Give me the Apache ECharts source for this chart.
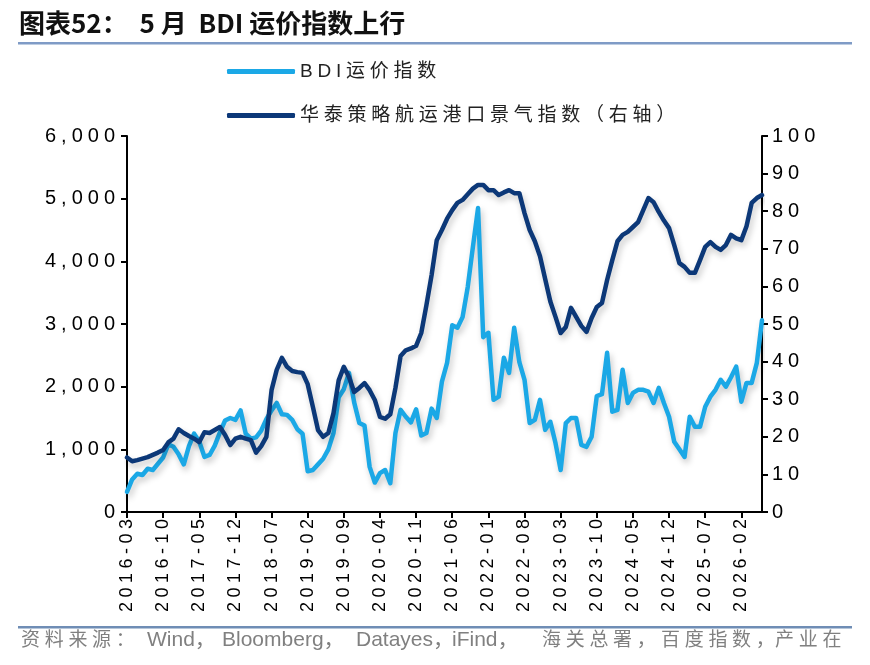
<!DOCTYPE html>
<html>
<head>
<meta charset="utf-8">
<script src="https://cdn.jsdelivr.net/npm/echarts@6/dist/echarts.min.js"></script>
<style>
  html, body { margin: 0; padding: 0; background: #fff; }
  #chart { width: 870px; height: 665px; }
</style>
</head>
<body>
<div id="chart"></div>
<script>
// monthly categories 2016-03 .. 2026-06
const months = [];
for (let y = 2016, m = 3; months.length < 124; m++) {
  if (m > 12) { m = 1; y++; }
  months.push(y + '-' + String(m).padStart(2, '0'));
}

// BDI 运价指数 (left axis)
const bdi = [
  320, 520, 610, 590, 690, 670, 770, 870, 1080, 1040, 920, 760,
  1050, 1250, 1120, 880, 910, 1060, 1270, 1460, 1500, 1470, 1620, 1250,
  1170, 1190, 1300, 1480, 1620, 1740, 1560, 1550, 1470, 1320, 1250, 650,
  670, 760, 850, 1000, 1260, 1830, 1960, 2220, 1750, 1420, 1380, 720,
  470, 620, 670, 460, 1260, 1630, 1520, 1430, 1640, 1220, 1260, 1650,
  1500, 2080, 2380, 2980, 2940, 3110, 3590, 4230, 4850, 2790, 2860, 1790,
  1840, 2460, 2220, 2940, 2390, 2110, 1420, 1470, 1790, 1310, 1440, 1100,
  670, 1420, 1500, 1500, 1070, 1040, 1200, 1850, 1880, 2540, 1600, 1630,
  2270, 1740, 1900, 1950, 1950, 1920, 1740, 1980, 1740, 1520, 1120, 1000,
  880, 1520, 1360, 1360, 1680, 1840, 1950, 2110, 2000, 2150, 2320, 1760,
  2060, 2060, 2380, 3060
];

// 华泰策略航运港口景气指数 (right axis)
const portIndex = [
  14.5, 13.5, 13.8, 14.2, 14.6, 15.2, 15.8, 16.5, 18.5, 19.5, 22, 21,
  20.2, 19.5, 18.6, 21.2, 21, 21.8, 22.6, 20.5, 17.8, 19.5, 20, 19.5,
  19.1, 15.8, 17.5, 20, 32.4, 37.8, 41, 38.6, 37.5, 37.2, 37, 34,
  28, 21.8, 20, 21, 26.3, 35, 38.6, 35.9, 31.9, 33, 34.3, 32.4,
  29.8, 25.3, 24.8, 26, 33, 41.5, 43, 43.5, 44.2, 47.6, 55, 63,
  72.3, 75, 78, 80.3, 82.2, 83, 84.5, 86, 87, 87, 85.6, 85.6,
  84.3, 85, 85.6, 84.8, 84.8, 79.5, 75, 72, 68, 62, 56, 51.9,
  47.6, 49.2, 54.3, 51.9, 49.5, 47.9, 51.6, 54.5, 55.6, 61.7, 67, 72,
  73.7, 74.5, 75.8, 77.1, 80.3, 83.5, 82.4, 79.8, 77.5, 75.5, 71, 66.2,
  65.2, 63.6, 63.6, 67, 70.5, 71.8, 70.5, 69.7, 71, 73.7, 72.8, 72.3,
  76, 82.2, 83.5, 84.3
];

const leftTicks = { min: 0, max: 6000, interval: 1000 };
const rightTicks = { min: 0, max: 100, interval: 10 };

const titleText = '图表52：  5 月  BDI 运价指数上行';
const sourceParts = [
  { t: '资料来源：', x: 21, cjk: true },
  { t: 'Wind，', x: 147 },
  { t: 'Bloomberg，', x: 222 },
  { t: 'Datayes，', x: 356 },
  { t: 'iFind，', x: 452 },
  { t: '海关总署，', x: 542, cjk: true },
  { t: '百度指数，', x: 661, cjk: true },
  { t: '产业在', x: 775, cjk: true }
];

const LIGHT = '#1ba8e6';
const DARK = '#0c3878';
const spread = s => String(s).split('').join('\u2005');

// source line: CJK chars placed one by one at a fixed pitch
const sourceEls = [];
sourceParts.forEach(p => {
  const chars = p.cjk ? p.t.split('') : [p.t];
  chars.forEach((c, i) => {
    sourceEls.push({
      type: 'text', left: p.x + i * 23.7, top: p.cjk ? 631 : 630,
      style: {
        text: c, fill: '#808080',
        font: (p.cjk ? '19px' : '21px') + ' "Liberation Sans", "Noto Sans CJK SC"'
      }
    });
  });
});

const chart = echarts.init(document.getElementById('chart'));
chart.setOption({
  animation: false,
  grid: { left: 127, right: 108, top: 136, bottom: 153 },
  legend: {
    orient: 'vertical',
    left: 222, top: 57,
    itemWidth: 68, itemHeight: 5, itemGap: 25,
    icon: 'roundRect',
    formatter: name => spread(name),
    textStyle: { fontSize: 19, color: '#222', fontFamily: '"Liberation Sans", "Noto Sans CJK SC"' }
  },
  graphic: [
    { type: 'text', left: 19, top: 10,
      style: { text: titleText, fill: '#111', font: 'bold 26px "Liberation Sans Narrow", "Noto Sans CJK SC"' } },
    { type: 'rect', left: 18, top: 42, shape: { width: 834, height: 2.5 }, style: { fill: '#7f9bc6' } },
    { type: 'rect', left: 18, top: 626, shape: { width: 834, height: 2.5 }, style: { fill: '#6f8db5' } }
  ].concat(sourceEls),
  xAxis: {
    type: 'category',
    data: months,
    boundaryGap: false,
    axisLine: { lineStyle: { color: '#000', width: 2 } },
    axisTick: { interval: 6, length: 6, lineStyle: { color: '#000', width: 2 } },
    axisLabel: {
      interval: 6, rotate: 90, margin: 7, fontSize: 18, color: '#000',
      fontFamily: '"Liberation Sans"',
      formatter: v => spread(v)
    },
    splitLine: { show: false }
  },
  yAxis: [
    {
      type: 'value', position: 'left', ...leftTicks,
      axisLine: { show: true, lineStyle: { color: '#000', width: 2 } },
      axisTick: { show: true, length: 6, lineStyle: { color: '#000', width: 2 } },
      axisLabel: {
        fontSize: 20, color: '#000', margin: 12, fontFamily: '"Liberation Sans"',
        formatter: v => spread(v.toLocaleString('en-US'))
      },
      splitLine: { show: false }
    },
    {
      type: 'value', position: 'right', ...rightTicks,
      axisLine: { show: true, lineStyle: { color: '#000', width: 2 } },
      axisTick: { show: true, length: 6, lineStyle: { color: '#000', width: 2 } },
      axisLabel: {
        fontSize: 20, color: '#000', margin: 10, fontFamily: '"Liberation Sans"',
        formatter: v => spread(v)
      },
      splitLine: { show: false }
    }
  ],
  series: [
    {
      name: 'BDI运价指数', type: 'line', yAxisIndex: 0, data: bdi,
      symbol: 'none', color: LIGHT,
      lineStyle: { width: 4.5, color: LIGHT, cap: 'round', join: 'round',
        shadowColor: 'rgba(0,0,0,0.22)', shadowBlur: 6, shadowOffsetX: 2, shadowOffsetY: 4 }
    },
    {
      name: '华泰策略航运港口景气指数（右轴）', type: 'line', yAxisIndex: 1, data: portIndex,
      symbol: 'none', color: DARK,
      lineStyle: { width: 4.5, color: DARK, cap: 'round', join: 'round',
        shadowColor: 'rgba(0,0,0,0.22)', shadowBlur: 6, shadowOffsetX: 2, shadowOffsetY: 4 }
    }
  ]
});
</script>
</body>
</html>
